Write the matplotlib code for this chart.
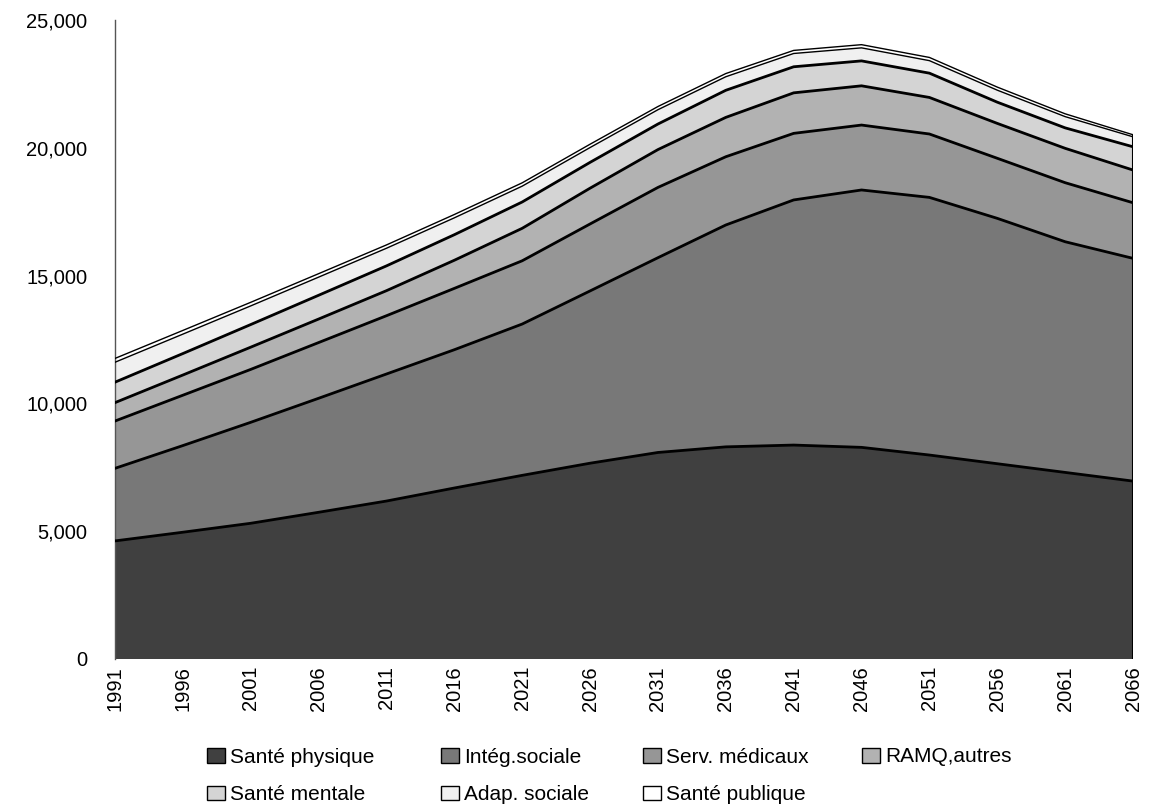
import matplotlib
matplotlib.use("Agg")
import matplotlib.pyplot as plt
from matplotlib.patches import Patch
from matplotlib.ticker import FuncFormatter

years = ["1991", "1996", "2001", "2006", "2011", "2016", "2021", "2026",
         "2031", "2036", "2041", "2046", "2051", "2056", "2061", "2066"]

sante_physique = [4620, 4960, 5310, 5740, 6180, 6690, 7185, 7660,
                  8080, 8300, 8370, 8280, 7980, 7640, 7300, 6960]
integ_sociale = [2840, 3390, 3950, 4460, 4970, 5410, 5920, 6740,
                 7620, 8680, 9590, 10070, 10080, 9600, 9025, 8715]
serv_medicaux = [1850, 1970, 2070, 2180, 2280, 2400, 2475, 2620,
                 2750, 2670, 2605, 2540, 2480, 2350, 2310, 2175]
ramq_autres = [720, 790, 870, 920, 980, 1100, 1270, 1400,
               1480, 1540, 1585, 1535, 1430, 1365, 1345, 1280]
sante_mentale = [800, 840, 885, 930, 970, 1000, 1030, 1010,
                 1000, 1060, 1020, 975, 950, 830, 800, 910]
adap_sociale = [780, 760, 730, 710, 690, 660, 620, 580,
                560, 530, 520, 510, 490, 470, 440, 390]
sante_publique = [150, 145, 140, 135, 130, 130, 130, 130,
                  125, 125, 120, 125, 125, 120, 110, 80]

labels = ["Santé physique", "Intég.sociale", "Serv. médicaux", "RAMQ,autres",
          "Santé mentale", "Adap. sociale", "Santé publique"]
series = [sante_physique, integ_sociale, serv_medicaux, ramq_autres,
          sante_mentale, adap_sociale, sante_publique]
colors = ["#404040", "#787878", "#969696", "#b2b2b2", "#d4d4d4", "#f0f0f0", "#ffffff"]
widths = [2.0, 2.0, 2.0, 2.0, 2.0, 1.0, 1.0]

plt.rcParams['font.family'] = ['Liberation Sans', 'DejaVu Sans']

fig = plt.figure(figsize=(11.55, 8.08), dpi=100)
ax = fig.add_axes([115/1155, 1-659/808, (1133-115)/1155, (659-20)/808])

x = list(range(len(years)))
base = [0]*len(years)
for vals, col, lw in zip(series, colors, widths):
    top = [b+v for b, v in zip(base, vals)]
    ax.fill_between(x, base, top, facecolor=col, edgecolor="none", zorder=2)
    ax.plot(x, top, color="black", lw=lw, zorder=3, solid_joinstyle="miter")
    base = top
ax.plot([x[-1], x[-1]], [0, base[-1]], color="black", lw=1.5, zorder=3)

ax.set_xlim(0, len(years)-1)
ax.set_ylim(0, 25000)
ax.set_yticks(range(0, 25001, 5000))
ax.yaxis.set_major_formatter(FuncFormatter(lambda v, p: f"{int(v):,}"))
ax.set_xticks(x)
ax.set_xticklabels(years, rotation=90)
ax.tick_params(axis="both", length=0, labelsize=14.5, colors="black")
ax.tick_params(axis="y", pad=20)
ax.tick_params(axis="x", pad=5)
for s in ["top", "right", "bottom"]:
    ax.spines[s].set_visible(False)
ax.spines["left"].set_color("#555555")
ax.spines["left"].set_linewidth(1.0)

handles = [Patch(facecolor=c, edgecolor="black", lw=1.0) for c in colors]
columns = [[0, 4], [1, 5], [2, 6], [3]]
col_x = [207, 441, 643, 862]
for idxs, cx in zip(columns, col_x):
    if len(idxs) == 2:
        yc = 1 - 776/808
    else:
        yc = 1 - 757/808
    leg = fig.legend([handles[i] for i in idxs], [labels[i] for i in idxs],
                     loc="center left", bbox_to_anchor=(cx/1155, yc), ncol=1,
                     frameon=False, fontsize=15, handlelength=0.85, handleheight=0.7,
                     handletextpad=0.25, labelspacing=0.9, borderpad=0,
                     borderaxespad=0)

fig.savefig("out.png", dpi=100, facecolor="white")
